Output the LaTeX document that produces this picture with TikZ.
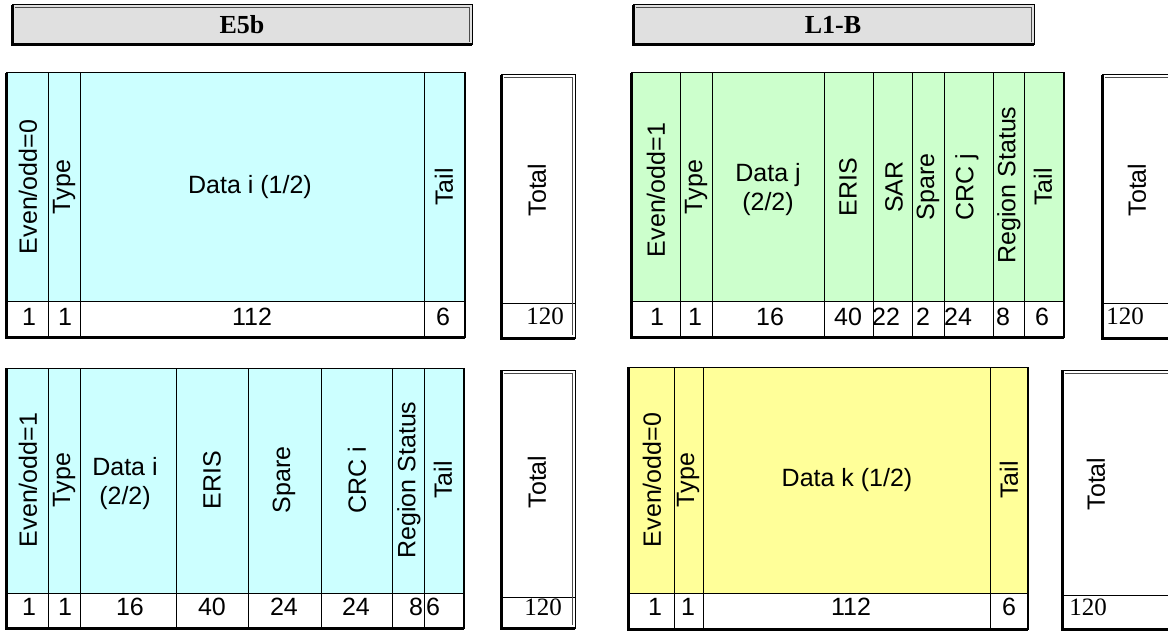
\documentclass[tikz,border=0pt]{standalone}
\usepackage{fontspec}
\setmainfont{Liberation Serif}
\newfontfamily\arialf{Liberation Sans}
\definecolor{cyanf}{HTML}{CCFFFF}
\definecolor{greenf}{HTML}{CCFFCC}
\definecolor{yellowf}{HTML}{FFFF99}
\definecolor{grayf}{HTML}{E0E0E0}
\tikzset{
 lab/.style={font=\arialf\fontsize{12.5}{14.5}\selectfont, inner sep=0pt, align=center},
 rlab/.style={lab, rotate=90},
 tnum/.style={font=\fontsize{12.5}{14}\selectfont, inner sep=0pt},
 hdr/.style={font=\bfseries\fontsize{13}{15}\selectfont, inner sep=0pt},
 thinln/.style={line width=0.5pt},
}
\newcommand\blockframe[4]{%
 \draw[thinln] (#1,#2) rectangle (#3,#4);
 \draw[line width=1.5pt] (#1,#2) -- (#1,#4) -- (#3,#4);
 \draw[line width=1pt] (#3,#2) -- (#3,#4);}
\newcommand\raisedframe[4]{%
 \draw[thinln] (#1,#2) rectangle (#3,#4);
 \draw[thinln, black!70] (#1+3,#2+3) -- (#3-3,#2+3) -- (#3-3,#4-3);
 \draw[line width=1.5pt] (#1,#2) -- (#1,#4) -- (#3,#4);}
\begin{document}
\begin{tikzpicture}[x=0.5pt,y=-0.5pt]
\useasboundingbox (0,0) rectangle (1168,631);
\clip (0,0) rectangle (1168,631);
\fill[white] (0,0) rectangle (1168,631);

% ---------- headers ----------
\fill[grayf] (12,5) rectangle (472,45);
\raisedframe{12}{5}{472}{45}
\node[hdr] (h1) at (242,25) {E5b};
\fill[grayf] (633,5) rectangle (1034,45);
\raisedframe{633}{5}{1034}{45}
\node[hdr] (h2) at (833,25) {L1-B};

% ---------- top-left block ----------
\fill[cyanf] (6,73) rectangle (465,301);
\fill[white] (6,301) rectangle (465,337);
\foreach \x in {48,80,424} \draw[thinln] (\x,73) -- (\x,337);
\draw[thinln] (6,301) -- (465,301);
\blockframe{6}{73}{465}{337}
\node[rlab] (tl1) at (28,187) {Even/odd=0};
\node[rlab] (tl2) at (64,187) {Type};
\node[lab] (tl3) at (250,187) {Data i (1/2)};
\node[rlab] (tl4) at (444,187) {Tail};
\node[lab] (tln1) at (29,317) {1};
\node[lab] (tln2) at (65,317) {1};
\node[lab] (tln3) at (252,317) {112};
\node[lab] (tln4) at (443,317) {6};

% ---------- bottom-left block ----------
\fill[cyanf] (6,368) rectangle (464,593);
\fill[white] (6,593) rectangle (464,628);
\foreach \x in {48,80,176,248,321,392,424} \draw[thinln] (\x,368) -- (\x,628);
\draw[thinln] (6,593) -- (464,593);
\blockframe{6}{368}{464}{628}
\node[rlab] (bl1) at (28,480) {Even/odd=1};
\node[rlab] (bl2) at (64,480) {Type};
\node[lab] (bl3) at (125,484) {Data i\\(2/2)};
\node[rlab] (bl4) at (212,480) {ERIS};
\node[rlab] (bl5) at (284,480) {Spare};
\node[rlab] (bl6) at (357,480) {CRC i};
\node[rlab] (bl7) at (409,480) {Region Status};
\node[rlab] (bl8) at (443,480) {Tail};
\node[lab] (bln1) at (29,607) {1};
\node[lab] (bln2) at (65,607) {1};
\node[lab] (bln3) at (130,607) {16};
\node[lab] (bln4) at (212,607) {40};
\node[lab] (bln5) at (284,607) {24};
\node[lab] (bln6) at (356,607) {24};
\node[lab] (bln7) at (416,607) {8};
\node[lab] (bln8) at (433,607) {6};

% ---------- top-right block ----------
\fill[greenf] (631,73) rectangle (1064,301);
\fill[white] (631,301) rectangle (1064,337);
\foreach \x in {680,712,824,873,912,944,993,1024} \draw[thinln] (\x,73) -- (\x,337);
\draw[thinln] (631,301) -- (1064,301);
\blockframe{631}{73}{1064}{337}
\node[rlab] (tr1) at (656,190) {Even/odd=1};
\node[rlab] (tr2) at (696,187) {Type};
\node[lab] (tr3) at (768,190) {Data j\\(2/2)};
\node[rlab] (tr4) at (848,187) {ERIS};
\node[rlab] (tr5) at (894,187) {SAR};
\node[rlab] (tr6) at (928,187) {Spare};
\node[rlab] (tr7) at (967,187) {CRC j};
\node[rlab] (tr8) at (1009,185) {Region Status};
\node[rlab] (tr9) at (1043,187) {Tail};
\node[lab] (trn1) at (657,317) {1};
\node[lab] (trn2) at (695,317) {1};
\node[lab] (trn3) at (770,317) {16};
\node[lab] (trn4) at (848,317) {40};
\node[lab] (trn5) at (886,317) {22};
\node[lab] (trn6) at (923,317) {2};
\node[lab] (trn7) at (958,317) {24};
\node[lab] (trn8) at (1003,317) {8};
\node[lab] (trn9) at (1042,317) {6};

% ---------- bottom-right block ----------
\fill[yellowf] (628,367) rectangle (1028,593);
\fill[white] (628,593) rectangle (1028,629);
\foreach \x in {674,703,990} \draw[thinln] (\x,367) -- (\x,629);
\draw[thinln] (628,593) -- (1028,593);
\blockframe{628}{367}{1028}{629}
\node[rlab] (br1) at (652,480) {Even/odd=0};
\node[rlab] (br2) at (688,480) {Type};
\node[lab] (br3) at (847,480) {Data k (1/2)};
\node[rlab] (br4) at (1009,480) {Tail};
\node[lab] (brn1) at (655,607) {1};
\node[lab] (brn2) at (688,607) {1};
\node[lab] (brn3) at (851,607) {112};
\node[lab] (brn4) at (1009,607) {6};

% ---------- total boxes ----------
\draw[thinln] (501,303) -- (575,303);
\raisedframe{501}{75}{575}{338}
\node[rlab] (t1) at (537,190) {Total};
\node[tnum] (t1n) at (545,316) {120};

\draw[thinln] (501,597) -- (575,597);
\raisedframe{501}{370}{575}{628}
\node[rlab] (t2) at (537,482) {Total};
\node[tnum] (t2n) at (543,607) {120};

\draw[thinln] (1102,303) -- (1190,303);
\raisedframe{1102}{75}{1190}{338}
\node[rlab] (t3) at (1137,190) {Total};
\node[tnum] (t3n) at (1125,316) {120};

\draw[thinln] (1062,595) -- (1190,595);
\raisedframe{1062}{370}{1190}{629}
\node[rlab] (t4) at (1096,484) {Total};
\node[tnum] (t4n) at (1088,607) {120};
\end{tikzpicture}
\end{document}
